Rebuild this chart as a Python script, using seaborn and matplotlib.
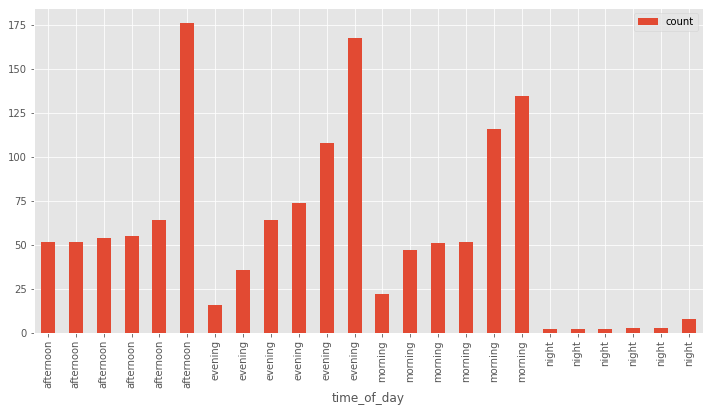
import matplotlib
matplotlib.use("Agg")
import matplotlib.pyplot as plt
import seaborn as sns
import pandas as pd

categories = (["afternoon"] * 6 + ["evening"] * 6 + ["morning"] * 6 + ["night"] * 6)
counts = [52, 52, 54, 55, 64, 176,
          16, 36, 64, 74, 108, 168,
          22, 47, 51, 52, 116, 135,
          2, 2, 2, 3, 3, 8]

plt.style.use("ggplot")
plt.rcParams["font.family"] = ["DejaVu Sans"]

df = pd.DataFrame({"pos": list(range(len(counts))), "count": counts})

DPI = 72
fig = plt.figure(figsize=(710 / DPI, 413 / DPI), dpi=DPI)
ax = fig.add_axes([34 / 710, 1 - 333 / 413, (703 - 34) / 710, (333 - 8) / 413])
sns.barplot(data=df, x="pos", y="count", color="#E24A33", saturation=1,
            width=0.5, label="count", ax=ax)
ax.set_xticks(range(len(categories)))
ax.set_xticklabels(categories, rotation=90)
ax.set_xlim(-0.5, len(counts) - 0.5)
ax.set_ylim(0, 184.8)
ax.grid(True, axis="both", color="white")
ax.set_axisbelow(True)
ax.set_xlabel("time_of_day")
ax.set_ylabel("")
ax.legend(loc="upper right")
fig.savefig("out.png", dpi=DPI)
